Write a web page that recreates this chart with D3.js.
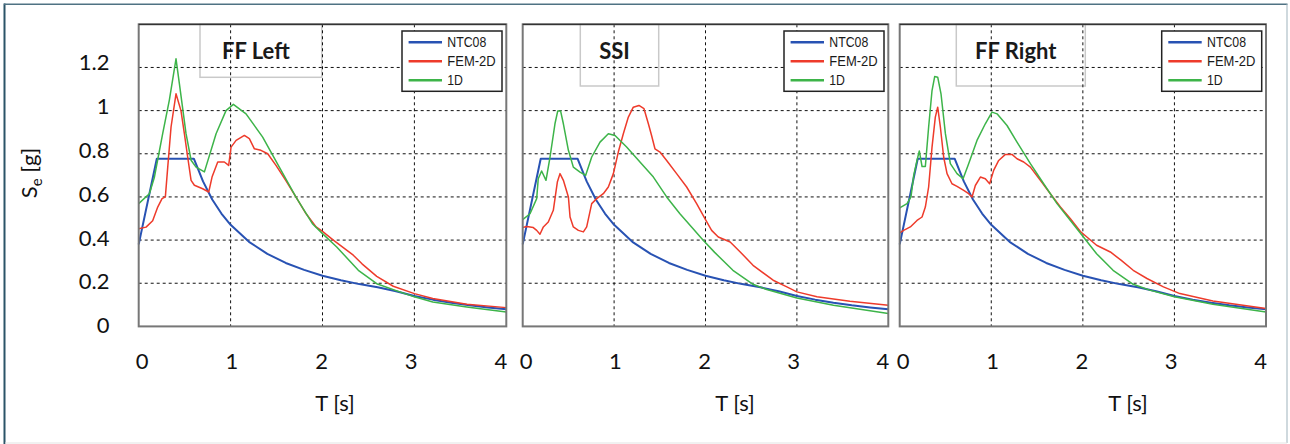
<!DOCTYPE html>
<html>
<head>
<meta charset="utf-8">
<script src="https://cdn.jsdelivr.net/npm/d3@7"></script>
<style>
  html, body { margin: 0; padding: 0; background: #fff; }
  svg { display: block; }
</style>
</head>
<body>
<svg id="chart" width="1290" height="444"></svg>
<script>
// ---------------- DATA ----------------
const panelTitles = ["FF Left", "SSI", "FF Right"];
const seriesNames = ["NTC08", "FEM-2D", "1D"];
const xTickValues = [0, 1, 2, 3, 4];
const yTickValues = [0, 0.2, 0.4, 0.6, 0.8, 1, 1.2];
const yTickLabels = ["0", "0.2", "0.4", "0.6", "0.8", "1", "1.2"];

// NTC08 code spectrum (same in each panel)
const ntc08Periods = [0, 0.197, 0.6, 0.7, 0.8, 0.9, 1.0, 1.2, 1.4, 1.6, 1.8, 2.0, 2.2, 2.4, 2.6, 2.8, 3.0, 3.2, 3.4, 3.6, 3.8, 4.0];
const ntc08Values  = [0.38, 0.777, 0.777, 0.672, 0.588, 0.523, 0.471, 0.392, 0.336, 0.294, 0.262, 0.235, 0.214, 0.196, 0.181, 0.163, 0.141, 0.124, 0.11, 0.098, 0.088, 0.079];

// [T (s), Se (g)] pairs
const ffLeftFEM = [[0,0.453],[0.08,0.46],[0.152,0.49],[0.207,0.553],[0.254,0.592],[0.29,0.6],[0.316,0.738],[0.352,0.924],[0.406,1.078],[0.46,1.0],[0.497,0.893],[0.533,0.785],[0.57,0.677],[0.606,0.654],[0.696,0.638],[0.762,0.623],[0.798,0.692],[0.86,0.762],[0.932,0.762],[0.979,0.746],[1.005,0.831],[1.06,0.862],[1.15,0.885],[1.204,0.87],[1.259,0.823],[1.33,0.816],[1.404,0.8],[1.494,0.746],[1.6,0.677],[1.71,0.6],[1.82,0.523],[1.93,0.461],[2.0,0.44],[2.118,0.4],[2.335,0.33],[2.43,0.29],[2.59,0.232],[2.77,0.186],[3.0,0.152],[3.2,0.129],[3.57,0.103],[4.0,0.087]];
const ffLeft1D = [[0,0.569],[0.116,0.615],[0.17,0.69],[0.261,0.893],[0.334,1.05],[0.406,1.24],[0.443,1.124],[0.515,0.893],[0.57,0.77],[0.624,0.738],[0.715,0.716],[0.842,0.893],[0.95,1.0],[1.03,1.029],[1.168,0.985],[1.349,0.877],[1.53,0.738],[1.71,0.6],[1.89,0.476],[2.0,0.43],[2.155,0.368],[2.39,0.26],[2.59,0.198],[2.84,0.16],[3.0,0.137],[3.2,0.113],[3.57,0.09],[4.0,0.067]];

const ssiFEM = [[0,0.458],[0.044,0.463],[0.116,0.458],[0.153,0.445],[0.189,0.427],[0.226,0.461],[0.28,0.484],[0.335,0.538],[0.379,0.669],[0.408,0.708],[0.445,0.677],[0.5,0.6],[0.518,0.507],[0.554,0.461],[0.609,0.445],[0.664,0.438],[0.7,0.461],[0.755,0.569],[0.81,0.592],[0.882,0.615],[0.937,0.646],[0.992,0.708],[1.046,0.808],[1.101,0.893],[1.156,0.97],[1.21,1.016],[1.272,1.024],[1.327,1.009],[1.375,0.939],[1.41,0.885],[1.447,0.823],[1.502,0.808],[1.575,0.769],[1.684,0.708],[1.794,0.646],[1.903,0.569],[2.0,0.495],[2.067,0.445],[2.14,0.414],[2.27,0.391],[2.38,0.345],[2.52,0.283],[2.74,0.214],[2.89,0.183],[3.0,0.16],[3.22,0.137],[3.58,0.117],[4.0,0.098]];
const ssi1D = [[0,0.495],[0.08,0.522],[0.153,0.592],[0.17,0.684],[0.207,0.72],[0.255,0.677],[0.299,0.785],[0.353,0.939],[0.383,0.998],[0.415,0.998],[0.445,0.939],[0.5,0.816],[0.554,0.738],[0.627,0.715],[0.689,0.7],[0.755,0.785],[0.846,0.854],[0.937,0.893],[1.01,0.885],[1.137,0.831],[1.283,0.762],[1.43,0.692],[1.575,0.6],[1.72,0.522],[1.85,0.46],[1.97,0.402],[2.1,0.343],[2.3,0.26],[2.52,0.195],[2.67,0.171],[3.0,0.132],[3.4,0.098],[4.0,0.06]];

const ffRightFEM = [[0,0.433],[0.043,0.445],[0.116,0.461],[0.189,0.491],[0.244,0.507],[0.28,0.553],[0.316,0.646],[0.353,0.831],[0.389,0.97],[0.415,1.016],[0.444,0.924],[0.48,0.785],[0.517,0.708],[0.571,0.661],[0.626,0.649],[0.699,0.63],[0.753,0.615],[0.79,0.6],[0.826,0.653],[0.881,0.692],[0.935,0.684],[0.982,0.661],[1.026,0.723],[1.081,0.769],[1.154,0.797],[1.226,0.797],[1.281,0.777],[1.354,0.762],[1.427,0.738],[1.536,0.677],[1.645,0.615],[1.755,0.553],[1.864,0.499],[1.973,0.44],[2.15,0.376],[2.3,0.345],[2.42,0.306],[2.55,0.26],[2.7,0.222],[2.88,0.183],[3.06,0.152],[3.42,0.118],[4.0,0.083]];
const ffRight1D = [[0,0.549],[0.08,0.569],[0.123,0.6],[0.153,0.7],[0.189,0.769],[0.214,0.813],[0.244,0.741],[0.28,0.741],[0.316,0.924],[0.353,1.093],[0.382,1.158],[0.415,1.155],[0.451,1.078],[0.499,0.893],[0.553,0.754],[0.626,0.708],[0.692,0.684],[0.753,0.754],[0.844,0.862],[0.935,0.939],[1.008,0.993],[1.063,0.985],[1.172,0.931],[1.281,0.854],[1.427,0.754],[1.572,0.661],[1.718,0.569],[1.864,0.491],[2.0,0.418],[2.15,0.337],[2.33,0.26],[2.55,0.195],[2.73,0.168],[3.0,0.137],[3.42,0.103],[4.0,0.067]];

const femSeries = [ffLeftFEM, ssiFEM, ffRightFEM];
const oneDSeries = [ffLeft1D, ssi1D, ffRight1D];

// ---------------- LAYOUT / STYLE ----------------
const colors = { "NTC08": "#2852b3", "FEM-2D": "#ee3b2b", "1D": "#3db449" };
const widths = { "NTC08": 2, "FEM-2D": 1.5, "1D": 1.5 };
const plotTop = 24.3, plotBottom = 326.4;
const panelX = [[138.7, 506.3], [522.7, 888.3], [899.7, 1266]];
const titleBoxes = [[200, 321.7, 77.3], [580.3, 658.7, 86], [956.3, 1085.3, 86]];
const xTitleCenters = [335, 735, 1128];
const font = "Lato, 'Open Sans', sans-serif";

const svg = d3.select("#chart");

// outer frame
svg.append("line").attr("x1", 4.5).attr("x2", 4.5).attr("y1", 3.5).attr("y2", 444)
  .attr("stroke", "#2b5468").attr("stroke-width", 2);
svg.append("line").attr("x1", 4).attr("x2", 1287.5).attr("y1", 4.3).attr("y2", 4.3)
  .attr("stroke", "#4f7283").attr("stroke-width", 1.4);
svg.append("line").attr("x1", 1287).attr("x2", 1287).attr("y1", 4).attr("y2", 443)
  .attr("stroke", "#9fb3bd").attr("stroke-width", 1);
svg.append("line").attr("x1", 5).attr("x2", 1287).attr("y1", 443).attr("y2", 443)
  .attr("stroke", "#e3e3e3").attr("stroke-width", 1);

const y = d3.scaleLinear().domain([0, 1.4]).range([plotBottom, plotTop]);
// tick labels sit on a slightly stretched scale, as in the original
const yLabel = d3.scaleLinear().domain([0, 1.4]).range([plotBottom - 1.5, plotTop - 6.5]);

// y axis labels (left panel only)
const yAxis = d3.axisLeft(yLabel).tickValues(yTickValues)
  .tickFormat((d, i) => yTickLabels[i]).tickSize(0).tickPadding(0);
const gy = svg.append("g").attr("transform", "translate(109.5,0)").call(yAxis);
gy.select(".domain").remove();
gy.selectAll("text").attr("font-family", font).attr("font-size", 22).attr("fill", "#111")
  .attr("dy", "0.36em");

// y axis title
const yt = svg.append("text").attr("transform", "translate(37,173) rotate(-90)")
  .attr("text-anchor", "middle").attr("font-family", font).attr("font-size", 22).attr("fill", "#111");
yt.append("tspan").text("S");
yt.append("tspan").attr("font-size", 15).attr("dy", 5).text("e");
yt.append("tspan").attr("dy", -5).text(" [g]");

panelTitles.forEach((title, p) => {
  const [x0, x1] = panelX[p];
  const x = d3.scaleLinear().domain([0, 4]).range([x0, x1]);
  const xLabel = d3.scaleLinear().domain([0, 4]).range([x0 + 3, x1 - 6]);
  const g = svg.append("g");

  // title box (outline, behind grid)
  const tb = titleBoxes[p];
  g.append("rect").attr("x", tb[0]).attr("y", plotTop).attr("width", tb[1] - tb[0]).attr("height", tb[2] - plotTop)
    .attr("fill", "none").attr("stroke", "#c9c9c9").attr("stroke-width", 1.5);
  g.append("text").attr("x", (tb[0] + tb[1]) / 2 - 5).attr("y", 58.5).attr("text-anchor", "middle")
    .attr("font-family", font).attr("font-weight", 700).attr("font-size", 22).attr("fill", "#1a1a1a").text(title);

  // grid
  g.append("g").selectAll("line").data(yTickValues.filter(v => v > 0)).join("line")
    .attr("x1", x0).attr("x2", x1).attr("y1", d => y(d)).attr("y2", d => y(d))
    .attr("stroke", "#111").attr("stroke-width", 1).attr("stroke-dasharray", "3,3");
  g.append("g").selectAll("line").data(xTickValues.filter(v => v > 0 && v < 4)).join("line")
    .attr("x1", d => x(d)).attr("x2", d => x(d)).attr("y1", plotTop).attr("y2", plotBottom)
    .attr("stroke", "#111").attr("stroke-width", 1).attr("stroke-dasharray", "3,3");

  // series
  const line = d3.line().x(d => x(d[0])).y(d => y(d[1]));
  const ntcData = ntc08Periods.map((t, i) => [t, ntc08Values[i]]);
  const data = { "NTC08": ntcData, "FEM-2D": femSeries[p], "1D": oneDSeries[p] };
  seriesNames.forEach(name => {
    g.append("path").datum(data[name]).attr("d", line)
      .attr("fill", "none").attr("stroke", colors[name]).attr("stroke-width", widths[name])
      .attr("stroke-linejoin", "round");
  });

  // plot frame
  g.append("rect").attr("x", x0).attr("y", plotTop).attr("width", x1 - x0).attr("height", plotBottom - plotTop)
    .attr("fill", "none").attr("stroke", "#777").attr("stroke-width", 2);
  g.append("line").attr("x1", x0).attr("x2", x1).attr("y1", plotTop).attr("y2", plotTop)
    .attr("stroke", "#333").attr("stroke-width", 1.2);

  // x axis labels
  const xAxis = d3.axisBottom(xLabel).tickValues(xTickValues).tickFormat(d3.format("d")).tickSize(0).tickPadding(0);
  const gx = g.append("g").attr("transform", "translate(0,352)").call(xAxis);
  gx.select(".domain").remove();
  gx.selectAll("text").attr("font-family", font).attr("font-size", 22).attr("fill", "#111").attr("dy", "0.75em");

  // x axis title
  g.append("text").attr("x", xTitleCenters[p]).attr("y", 410.5).attr("text-anchor", "middle")
    .attr("font-family", font).attr("font-size", 22).attr("fill", "#111").text("T [s]");

  // legend
  const lx = x1 - 104.3, ly = 31;
  const lg = g.append("g").attr("transform", `translate(${lx},${ly})`);
  lg.append("rect").attr("width", 100).attr("height", 60.3).attr("fill", "#fff")
    .attr("stroke", "#222").attr("stroke-width", 1.5);
  const rowY = [11.3, 30.3, 49.3];
  const textLen = { "NTC08": 39, "FEM-2D": 48.3, "1D": 15.7 };
  seriesNames.forEach((name, i) => {
    lg.append("line").attr("x1", 6.6).attr("x2", 40).attr("y1", rowY[i]).attr("y2", rowY[i])
      .attr("stroke", colors[name]).attr("stroke-width", 2.5);
    lg.append("text").attr("x", 45.3).attr("y", rowY[i] + 5)
      .attr("font-family", "'Liberation Sans', Arial, sans-serif").attr("font-size", 15).attr("fill", "#1a1a1a")
      .attr("textLength", textLen[name]).attr("lengthAdjust", "spacingAndGlyphs").text(name);
  });
});
</script>
</body>
</html>
